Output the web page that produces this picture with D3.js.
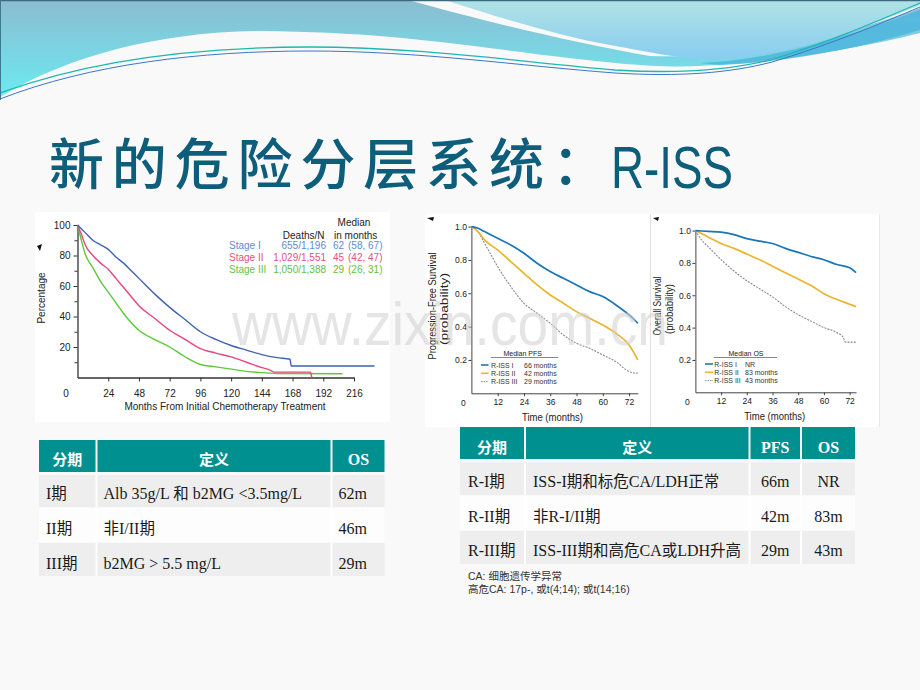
<!DOCTYPE html>
<html><head><meta charset="utf-8">
<script src="https://cdn.jsdelivr.net/npm/d3@7"></script>
<style>body{margin:0;background:#f9f9f9}svg{display:block}</style>
</head><body><svg id="c" width="920" height="690"></svg>
<script>
// ---------------- DATA ----------------
// Left chart: ISS stages (months, percentage)
const stage1Months = [0,6,12,18,24,30,36,42,48,60,72,84,96,108,120,132,144,156,166,167,232];
const stage1Pct    = [100,95,90,87,84,79,75,70,65,55,46,38,30,25,21,18,15,13,12,7.5,7.5];
const stage2Months = [0,3,6,12,18,24,30,36,42,48,60,72,84,96,108,120,132,144,150,154,182,183];
const stage2Pct    = [100,94,87,80,75,71,65,59,53,47,39,31,25,19,16,13.5,10,6.5,5,3.5,3.5,0];
const stage3Months = [0,3,6,12,18,24,30,36,48,60,72,84,96,108,120,132,144,156,207];
const stage3Pct    = [100,90,81,72,63,56,49,42,31,25,20,13.6,8.5,7,5.5,4,3.2,2.6,2.5];
const leftYTicks = [20,40,60,80,100];
const leftXTicks = [24,48,72,96,120,144,168,192,216];
const leftLegendNames  = ["Stage I","Stage II","Stage III"];
const leftLegendDeaths = ["655/1,196","1,029/1,551","1,050/1,388"];
const leftLegendMedian = ["62","45","29"];
const leftLegendCI     = ["(58, 67)","(42, 47)","(26, 31)"];

// Middle chart: PFS by R-ISS (months, probability)
const pfs1Months = [0,3,6,12,18,24,30,36,42,48,54,60,66,72,76];
const pfs1Prob   = [1.0,0.99,0.97,0.93,0.89,0.84,0.78,0.73,0.69,0.65,0.61,0.58,0.53,0.47,0.42];
const pfs2Months = [0,3,6,12,18,24,30,36,42,48,54,60,66,72,76];
const pfs2Prob   = [1.0,0.97,0.92,0.86,0.79,0.72,0.65,0.59,0.54,0.49,0.45,0.41,0.36,0.29,0.20];
const pfs3Months = [0,3,6,9,12,18,24,30,36,42,48,54,60,66,72,76];
const pfs3Prob   = [1.0,0.97,0.90,0.83,0.76,0.64,0.54,0.48,0.42,0.35,0.30,0.27,0.23,0.19,0.13,0.12];
const pfsMedians = ["66 months","42 months","29 months"];

// Right chart: OS by R-ISS
const os1Months = [0,6,12,18,24,30,36,42,48,54,60,66,72,75];
const os1Prob   = [1.0,0.995,0.99,0.975,0.95,0.935,0.92,0.89,0.865,0.84,0.82,0.79,0.77,0.74];
const os2Months = [0,6,12,18,24,30,36,42,48,54,60,66,72,75];
const os2Prob   = [1.0,0.96,0.92,0.89,0.855,0.82,0.78,0.74,0.70,0.66,0.61,0.575,0.545,0.53];
const os3Months = [0,3,6,12,18,24,30,36,42,48,54,60,66,69,70,75];
const os3Prob   = [1.0,0.94,0.90,0.82,0.75,0.69,0.64,0.59,0.53,0.48,0.44,0.40,0.37,0.34,0.31,0.31];
const osMedians = ["NR","83 months","43 months"];
const rissNames = ["R-ISS I","R-ISS II","R-ISS III"];
const probTicks = [0.2,0.4,0.6,0.8,1.0];
const monthTicks = [12,24,36,48,60,72];

// Tables
const leftHeader = ["分期","定义","OS"];
const leftRows = [["I期","Alb 35g/L 和 b2MG <3.5mg/L","62m"],["II期","非I/II期","46m"],["III期","b2MG > 5.5 mg/L","29m"]];
const rightHeader = ["分期","定义","PFS","OS"];
const rightRows = [["R-I期","ISS-I期和标危CA/LDH正常","66m","NR"],["R-II期","非R-I/II期","42m","83m"],["R-III期","ISS-III期和高危CA或LDH升高","29m","43m"]];
const footnotes = ["CA: 细胞遗传学异常","高危CA: 17p-, 或t(4;14); 或t(14;16)"];

// ---------------- DRAW ----------------
const svg = d3.select('#c');
const defs = svg.append('defs');
const gA = defs.append('linearGradient').attr('id','gA').attr('gradientUnits','userSpaceOnUse').attr('x1',0).attr('y1',0).attr('x2',0).attr('y2',97);
gA.append('stop').attr('offset',0).attr('stop-color','#8bbcd2');
gA.append('stop').attr('offset',1).attr('stop-color','#6ceaf0');
const gB = defs.append('linearGradient').attr('id','gB').attr('gradientUnits','userSpaceOnUse').attr('x1',0).attr('y1',0).attr('x2',0).attr('y2',60);
gB.append('stop').attr('offset',0).attr('stop-color','#b0e3e6');
gB.append('stop').attr('offset',1).attr('stop-color','#88ccf0');

svg.append('rect').attr('width',920).attr('height',690).attr('fill','#f9f9f9');
// header wave
svg.append('path').attr('fill','url(#gA)')
  .attr('d','M0,0 L408,0 C480,20 570,42 650,56 C760,60 860,30 920,8 L920,33 C860,48 780,62 700,66 C650,68 600,62 505,50 C420,39 360,32 260,31 C160,32 70,55 0,97 Z');
svg.append('path').attr('fill','url(#gB)')
  .attr('d','M445,0 L920,0 L920,5 C860,30 790,56 720,59 C680,60 650,52 610,45 C560,36 500,18 445,0 Z');
svg.append('path').attr('fill','#4db6de').attr('opacity',0.85)
  .attr('d','M700,63 C780,60 860,32 920,10 L920,30 C860,48 790,62 720,65 Z');
svg.append('path').attr('fill','none').attr('stroke','#1fb8b0').attr('stroke-width',1.3)
  .attr('d','M0,93 C90,60 200,47 310,47 C420,47 520,62 615,70 C680,74 730,70 770,60 C830,42 880,20 920,3');
svg.append('path').attr('fill','none').attr('stroke','#3a78c8').attr('stroke-width',1)
  .attr('d','M0,99 C90,64 200,51 310,51 C420,51 520,66 615,73 C680,77 730,73 772,62 C832,44 882,23 920,7');
svg.append('line').attr('x1',0).attr('x2',920).attr('y1',0.5).attr('y2',0.5).attr('stroke','#3c6a80').attr('stroke-width',1.5);
svg.append('line').attr('x1',0.5).attr('x2',0.5).attr('y1',0).attr('y2',100).attr('stroke','#3c7a90').attr('stroke-width',1);

// title
svg.append('text').attr('x',49).attr('y',184).attr('font-family','"Noto Sans CJK SC"').attr('font-size',55)
  .attr('font-weight',500).attr('fill','#0e5e7b').attr('textLength',558).attr('lengthAdjust','spacing').text('新的危险分层系统：');
svg.append('text').attr('x',611).attr('y',188).attr('font-family','"Liberation Sans", Arial').attr('font-size',60)
  .attr('fill','#0e5e7b').attr('textLength',122).attr('lengthAdjust','spacingAndGlyphs').text('R-ISS');

// chart image boxes
svg.append('rect').attr('x',35).attr('y',212).attr('width',355).attr('height',210).attr('fill','#fff');
svg.append('rect').attr('x',425).attr('y',214).attr('width',226).attr('height',213).attr('fill','#fff');
svg.append('rect').attr('x',651).attr('y',214).attr('width',229).attr('height',213).attr('fill','#fff');
svg.append('line').attr('x1',650.5).attr('x2',650.5).attr('y1',214).attr('y2',427).attr('stroke','#e2e2e2');
svg.append('line').attr('x1',879.5).attr('x2',879.5).attr('y1',214).attr('y2',427).attr('stroke','#e8e8e8');
svg.append('path').attr('d','M37,246 L42,244 L40,251 Z').attr('fill','#111');
svg.append('path').attr('d','M427,218 L434,217 L433,221 Z').attr('fill','#111');
svg.append('path').attr('d','M653,218 L659,217 L658,221 Z').attr('fill','#111');

const FONT = '"Liberation Sans", Arial, sans-serif';

function styleAxis(g, size, color) {
  g.selectAll('path,line').attr('stroke', color);
  g.selectAll('text').attr('font-family', FONT).attr('font-size', size).attr('fill', '#222');
}

// ---- Left chart ----
(function(){
  const x = d3.scaleLinear().domain([0,216]).range([77.5,354]);
  const y = d3.scaleLinear().domain([0,100]).range([377.5,225]);
  const g = svg.append('g');
  const ya = g.append('g').attr('transform','translate(77.5,0)')
    .call(d3.axisLeft(y).tickValues(leftYTicks).tickSize(4).tickPadding(3).tickSizeOuter(0));
  g.append('g').attr('transform','translate(77.5,0)')
    .call(d3.axisLeft(y).tickValues([10,30,50,70,90]).tickSize(3).tickFormat('').tickSizeOuter(0))
    .call(a=>a.select('.domain').remove()).selectAll('line').attr('stroke','#333');
  const xa = g.append('g').attr('transform','translate(0,377.5)')
    .call(d3.axisBottom(x).tickValues(leftXTicks).tickSize(4).tickPadding(8).tickSizeOuter(0));
  styleAxis(ya,10,'#333'); styleAxis(xa,10,'#333');
  ya.select('.domain').attr('stroke-width',1.3); xa.select('.domain').attr('stroke-width',1.3);
  g.append('text').attr('x',66).attr('y',397).attr('font-family',FONT).attr('font-size',10).attr('fill','#222').attr('text-anchor','middle').text('0');
  g.append('text').attr('transform','translate(45,298) rotate(-90)').attr('text-anchor','middle')
    .attr('font-family',FONT).attr('font-size',10).attr('fill','#222').text('Percentage');
  g.append('text').attr('x',225).attr('y',410).attr('text-anchor','middle')
    .attr('font-family',FONT).attr('font-size',10).attr('fill','#222').text('Months From Initial Chemotherapy Treatment');
  const line = d3.line().x(d=>x(d[0])).y(d=>y(d[1])).curve(d3.curveMonotoneX);
  const series = [[stage3Months,stage3Pct,'#5ec83c'],[stage2Months,stage2Pct,'#e8457d'],[stage1Months,stage1Pct,'#3e63b3']];
  series.forEach(s=>g.append('path').datum(d3.zip(s[0],s[1])).attr('d',line)
    .attr('fill','none').attr('stroke',s[2]).attr('stroke-width',1.4));
  // legend
  const lt = (t,xx,yy,anchor,col)=>g.append('text').attr('x',xx).attr('y',yy).attr('text-anchor',anchor||'start')
    .attr('font-family',FONT).attr('font-size',10).attr('fill',col||'#222').text(t);
  lt('Median',354,226,'middle');
  lt('Deaths/N',324.5,238.5,'end');
  lt('in months',334,238.5,'start');
  const lc = ['#5b8bd6','#e2508a','#62c23e'];
  leftLegendNames.forEach((n,i)=>{
    const yy = 249 + i*12;
    lt(n,229,yy,'start',lc[i]);
    lt(leftLegendDeaths[i],326,yy,'end',lc[i]);
    lt(leftLegendMedian[i],333,yy,'start',lc[i]);
    lt(leftLegendCI[i],348,yy,'start',lc[i]);
  });
})();

// ---- R-ISS charts ----
function rissChart(o){
  const x = d3.scaleLinear().domain([0,o.xmax]).range([o.x0,o.x0+o.pxPerMonth*o.xmax]);
  const y = d3.scaleLinear().domain([0,1]).range([o.y0,o.y1]);
  const g = svg.append('g');
  const ya = g.append('g').attr('transform',`translate(${o.x0},0)`)
    .call(d3.axisLeft(y).tickValues(probTicks).tickFormat(d3.format('.1f')).tickSize(3).tickPadding(1.5).tickSizeOuter(0));
  const xa = g.append('g').attr('transform',`translate(0,${o.y0})`)
    .call(d3.axisBottom(x).tickValues(monthTicks).tickSize(3).tickPadding(3).tickSizeOuter(0));
  styleAxis(ya,8.5,'#444'); styleAxis(xa,8.5,'#444');
  g.append('text').attr('x',o.x0-8).attr('y',o.y0+13).attr('text-anchor','middle').attr('font-family',FONT).attr('font-size',8.5).attr('fill','#222').text('0');
  g.append('text').attr('x',o.x0+o.pxPerMonth*37).attr('y',o.y0+28).attr('text-anchor','middle')
    .attr('font-family',FONT).attr('font-size',11.5).attr('fill','#222').attr('textLength',61).attr('lengthAdjust','spacingAndGlyphs').text('Time (months)');
  g.append('text').attr('transform',`translate(${o.labX1},${o.labY}) rotate(-90)`).attr('text-anchor','middle')
    .attr('font-family',FONT).attr('font-size',11).attr('fill','#222').attr('textLength',o.labLen1).attr('lengthAdjust','spacingAndGlyphs').text(o.label);
  g.append('text').attr('transform',`translate(${o.labX2},${o.labY+3}) rotate(-90)`).attr('text-anchor','middle')
    .attr('font-family',FONT).attr('font-size',11).attr('fill','#222').attr('textLength',o.labLen2).attr('lengthAdjust','spacingAndGlyphs').text('(probability)');
  const line = d3.line().x(d=>x(d[0])).y(d=>y(d[1])).curve(d3.curveMonotoneX);
  const cols = ['#1b75b9','#e8b52b','#8a8a8a'];
  [2,1,0].forEach(i=>{
    const p = g.append('path').datum(d3.zip(o.series[i][0],o.series[i][1])).attr('d',line)
      .attr('fill','none').attr('stroke',cols[i]).attr('stroke-width', i===2?1.1:1.7);
    if(i===2) p.attr('stroke-dasharray','2,1.2');
  });
  // legend
  const L = o.leg;
  g.append('text').attr('x',L.hx).attr('y',L.hy).attr('text-anchor','middle').attr('font-family',FONT).attr('font-size',7).attr('fill','#222').text(o.legTitle);
  g.append('line').attr('x1',L.lx1).attr('x2',L.lx2).attr('y1',L.hy+1.5).attr('y2',L.hy+1.5).attr('stroke','#555').attr('stroke-width',0.7);
  rissNames.forEach((n,i)=>{
    const yy = L.ry + i*8.3;
    const s = g.append('line').attr('x1',L.sx1).attr('x2',L.sx2).attr('y1',yy-2.5).attr('y2',yy-2.5)
      .attr('stroke',cols[i]).attr('stroke-width',i===2?1:1.6);
    if(i===2) s.attr('stroke-dasharray','1.5,1');
    g.append('text').attr('x',L.tx).attr('y',yy).attr('font-family',FONT).attr('font-size',7).attr('fill','#333').text(n);
    g.append('text').attr('x',L.vx).attr('y',yy).attr('font-family',FONT).attr('font-size',7).attr('fill','#333').text(o.medians[i]);
  });
}
rissChart({x0:471.4,pxPerMonth:2.19,xmax:76,y0:393.3,y1:226.6,
  series:[[pfs1Months,pfs1Prob],[pfs2Months,pfs2Prob],[pfs3Months,pfs3Prob]],
  label:'Progression-Free Survival',labX1:436,labX2:448,labY:306,labLen1:107,labLen2:72,
  legTitle:'Median PFS',medians:pfsMedians,
  leg:{hx:522.7,hy:356,lx1:491,lx2:558,ry:367.5,sx1:481,sx2:488.5,tx:491,vx:524}});
rissChart({x0:695.4,pxPerMonth:2.142,xmax:75,y0:392.3,y1:230.6,
  series:[[os1Months,os1Prob],[os2Months,os2Prob],[os3Months,os3Prob]],
  label:'Overall Survival',labX1:661,labX2:673,labY:306,labLen1:59,labLen2:50,
  legTitle:'Median OS',medians:osMedians,
  leg:{hx:746,hy:356,lx1:714,lx2:777,ry:366.5,sx1:705,sx2:713,tx:714.3,vx:745}});

// watermark
svg.append('text').attr('x',232).attr('y',345).attr('font-family',FONT).attr('font-size',62)
  .attr('fill','#cfcfcf').attr('fill-opacity',0.55).attr('textLength',436).attr('lengthAdjust','spacingAndGlyphs').text('www.zixin.com.cn');

// ---- Tables ----
const SERIF = '"Liberation Serif","Times New Roman",serif';
const CJK = '"Noto Sans CJK SC"';
function table(o){
  const g = svg.append('g');
  o.cols.forEach((c,j)=>{
    g.append('rect').attr('x',c[0]).attr('y',o.headY[0]).attr('width',c[1]-c[0]).attr('height',o.headY[1]-o.headY[0]).attr('fill','#009090');
    const isCJK = /[\u4e00-\u9fff]/.test(o.header[j]);
    g.append('text').attr('x',(c[0]+c[1])/2).attr('y',o.headBase).attr('text-anchor','middle')
      .attr('font-family',isCJK?CJK:SERIF).attr('font-weight','bold').attr('font-size',isCJK?15:16).attr('fill','#fff').text(o.header[j]);
  });
  o.rows.forEach((r,i)=>{
    const ry = o.rowY[i];
    g.append('rect').attr('x',o.cols[0][0]).attr('y',ry[0]).attr('width',o.cols[o.cols.length-1][1]-o.cols[0][0]).attr('height',ry[1]-ry[0])
      .attr('fill', i%2===0 ? '#eeeeee' : '#fdfdfd');
    o.cols.forEach((c,j)=>{
      if(j>0) g.append('line').attr('x1',c[0]-1).attr('x2',c[0]-1).attr('y1',ry[0]).attr('y2',ry[1]).attr('stroke','#fff').attr('stroke-width',2);
      const t = g.append('text').attr('y',ry[2]).attr('font-family',SERIF).attr('font-size',16).attr('fill','#1a1a1a');
      if(o.align[j]==='middle') t.attr('x',(c[0]+c[1])/2).attr('text-anchor','middle');
      else t.attr('x',c[0]+o.pad[j]);
      const parts = r[j].match(/[\u4e00-\u9fff]+|[^\u4e00-\u9fff]+/g);
      parts.forEach(p=>t.append('tspan').attr('font-family',/[\u4e00-\u9fff]/.test(p)?CJK:SERIF).attr('font-size',/[\u4e00-\u9fff]/.test(p)?15.5:16).text(p));
    });
  });
}
table({cols:[[39,95.5],[97.5,330.5],[332.5,384.5]],headY:[440,472],headBase:465,header:leftHeader,rows:leftRows,
  rowY:[[475,507,499],[508,542,534],[543,576,569]],align:['start','start','start'],pad:[7,6,6]});
table({cols:[[460,524],[526,748.5],[750.5,800],[802,855]],headY:[427,459],headBase:453,header:rightHeader,rows:rightRows,
  rowY:[[462.5,495,487],[496,530,522],[531,564,556]],align:['start','start','middle','middle'],pad:[8,7,0,0]});
footnotes.forEach((f,i)=>svg.append('text').attr('x',468).attr('y',580+i*12.5).attr('font-family',FONT+',"Noto Sans CJK SC"')
  .attr('font-size',10.5).attr('fill','#333').text(f));
</script></body></html>
